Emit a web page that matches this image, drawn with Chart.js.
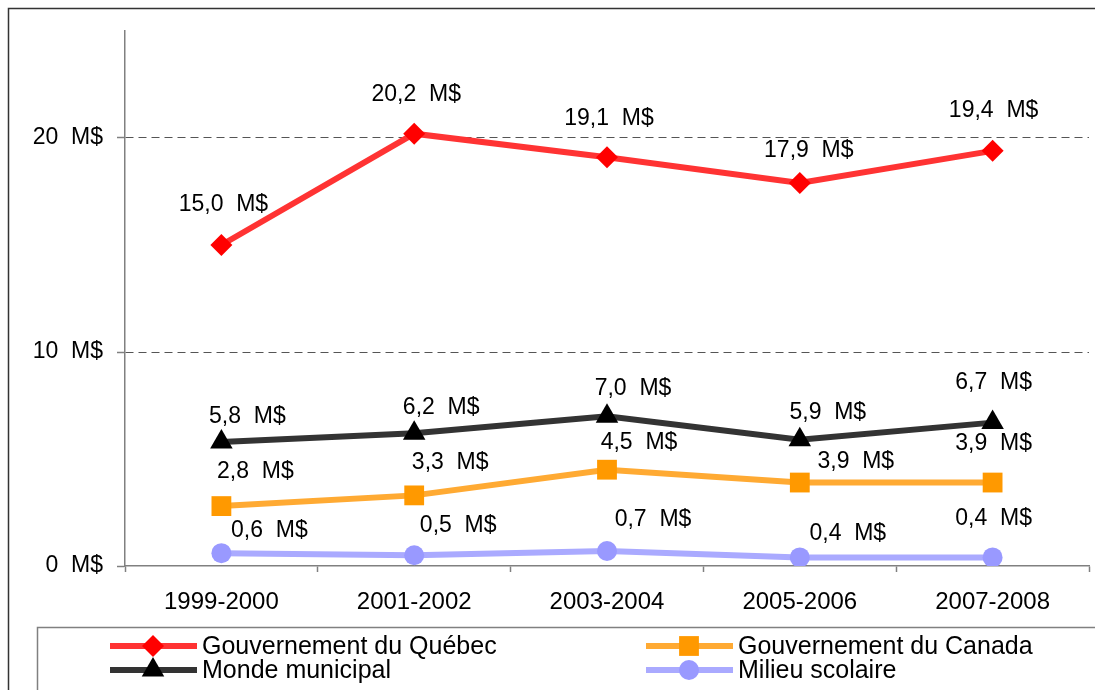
<!DOCTYPE html>
<html>
<head>
<meta charset="utf-8">
<script src="https://cdn.jsdelivr.net/npm/chart.js@4/dist/chart.umd.min.js"></script>
<style>
  html, body { margin: 0; padding: 0; background: #fff; overflow: hidden; }
  #wrap { position: relative; width: 1095px; height: 690px; overflow: hidden; }
  canvas { position: absolute; left: 0; top: 0; }
</style>
</head>
<body>
<div id="wrap"><canvas id="myChart" width="1095" height="690"></canvas></div>
<script>
// data (millions of dollars)
const periods = ['1999-2000', '2001-2002', '2003-2004', '2005-2006', '2007-2008'];
const quebec = [15.0, 20.2, 19.1, 17.9, 19.4];
const canada = [2.8, 3.3, 4.5, 3.9, 3.9];
const municipal = [5.8, 6.2, 7.0, 5.9, 6.7];
const scolaire = [0.6, 0.5, 0.7, 0.4, 0.4];
const yTicks = [0, 10, 20];

const seriesNames = ['Gouvernement du Québec', 'Gouvernement du Canada', 'Monde municipal', 'Milieu scolaire'];

// label placement relative to each point (dx, dy), like the excel layout
const labelShift = [
  [[2, -40], [2, -39], [2, -39], [9, -32], [1, -40]],
  [[34, -34], [36, -33], [32, -27], [56, -21], [1, -39]],
  [[26, -25], [27, -26], [26, -28], [28, -27], [1, -40]],
  [[48, -23], [44, -30], [46, -31], [48, -24], [1, -39]]
];

const FONT = '"Liberation Sans", Arial, sans-serif';

function fmt(v) {
  return v.toFixed(1).replace('.', ',') + '  M$';
}

// outer frame: only top and left edges are inside the picture
const frame = {
  id: 'frame',
  beforeDraw(chart) {
    const c = chart.ctx;
    c.save();
    c.fillStyle = '#fff';
    c.fillRect(0, 0, chart.width, chart.height);
    c.strokeStyle = '#333';
    c.lineWidth = 1.5;
    c.beginPath();
    c.moveTo(8.5, chart.height);
    c.lineTo(8.5, 8.5);
    c.lineTo(chart.width, 8.5);
    c.stroke();
    c.restore();
  }
};

const valueLabels = {
  id: 'valueLabels',
  afterDatasetsDraw(chart) {
    const c = chart.ctx;
    c.save();
    c.font = '23px ' + FONT;
    c.fillStyle = '#000';
    c.textAlign = 'center';
    c.textBaseline = 'middle';
    chart.data.datasets.forEach((ds, i) => {
      const meta = chart.getDatasetMeta(i);
      meta.data.forEach((pt, j) => {
        const s = labelShift[i][j];
        c.fillText(fmt(ds.data[j]), pt.x + s[0], pt.y + s[1]);
      });
    });
    c.restore();
  }
};

function marker(c, style, x, y, r, color) {
  c.fillStyle = color;
  c.beginPath();
  if (style === 'rectRot') {
    c.moveTo(x, y - r); c.lineTo(x + r, y); c.lineTo(x, y + r); c.lineTo(x - r, y);
  } else if (style === 'rect') {
    const h = r * Math.SQRT1_2;
    c.rect(x - h, y - h, 2 * h, 2 * h);
  } else if (style === 'triangle') {
    c.moveTo(x, y - r);
    c.lineTo(x + r * 0.866, y + r / 2);
    c.lineTo(x - r * 0.866, y + r / 2);
  } else {
    c.arc(x, y, r, 0, Math.PI * 2);
  }
  c.closePath();
  c.fill();
}

// legend in a box, two columns
const boxLegend = {
  id: 'boxLegend',
  afterDraw(chart) {
    const c = chart.ctx;
    c.save();
    c.strokeStyle = '#808080';
    c.lineWidth = 1.5;
    c.beginPath();
    c.moveTo(37.5, chart.height);
    c.lineTo(37.5, 627.5);
    c.lineTo(chart.width, 627.5);
    c.stroke();
    const slots = [[110, 646], [646, 646], [110, 670], [646, 670]];
    c.font = '25px ' + FONT;
    c.textBaseline = 'middle';
    c.textAlign = 'left';
    chart.data.datasets.forEach((ds, k) => {
      const [x, y] = slots[k];
      c.strokeStyle = ds.borderColor;
      c.lineWidth = 6;
      c.beginPath();
      c.moveTo(x, y);
      c.lineTo(x + 87, y);
      c.stroke();
      marker(c, ds.pointStyle, x + 43, y, ds.pointRadius, ds.pointBackgroundColor);
      c.fillStyle = '#000';
      c.fillText(ds.label, x + 92, y + 1);
    });
    c.restore();
  }
};

const myChart = document.getElementById('myChart');
const chart = new Chart(myChart, {
  type: 'line',
  data: {
    labels: periods,
    datasets: [
      {
        label: seriesNames[0], data: quebec,
        borderColor: '#FF3333', borderWidth: 6,
        pointStyle: 'rectRot', pointRadius: 11,
        pointBackgroundColor: '#FF0000', pointBorderWidth: 0
      },
      {
        label: seriesNames[1], data: canada,
        borderColor: '#FFAA33', borderWidth: 6,
        pointStyle: 'rect', pointRadius: 14,
        pointBackgroundColor: '#FF9900', pointBorderWidth: 0
      },
      {
        label: seriesNames[2], data: municipal,
        borderColor: '#333333', borderWidth: 6,
        pointStyle: 'triangle', pointRadius: 13,
        pointBackgroundColor: '#000000', pointBorderWidth: 0
      },
      {
        label: seriesNames[3], data: scolaire,
        borderColor: '#AAAAFF', borderWidth: 6,
        pointStyle: 'circle', pointRadius: 10,
        pointBackgroundColor: '#9999FF', pointBorderWidth: 0
      }
    ]
  },
  options: {
    responsive: false,
    animation: false,
    layout: { autoPadding: false, padding: { left: 0, right: 6, top: 31, bottom: 0 } },
    plugins: {
      legend: { display: false },
      tooltip: { enabled: false }
    },
    scales: {
      x: {
        offset: true,
        afterFit(scale) {
          scale.height = 124;
          scale.paddingLeft = 0;
          scale.paddingRight = 0;
        },
        grid: {
          offset: true, drawOnChartArea: false,
          tickLength: 6, tickColor: '#808080', tickWidth: 1.5
        },
        border: { color: '#808080', width: 1.5 },
        ticks: {
          color: '#000', padding: 16,
          font: { family: FONT, size: 24 }
        }
      },
      y: {
        min: 0, max: 25,
        afterFit(scale) { scale.width = 125; },
        afterBuildTicks(scale) { scale.ticks = yTicks.map(v => ({ value: v })); },
        grid: {
          color: ctx => (ctx.tick && ctx.tick.value === 0) ? 'rgba(0,0,0,0)' : '#555',
          lineWidth: 1,
          tickLength: 8, tickColor: '#808080', tickWidth: 1.5
        },
        border: { color: '#808080', width: 1.5, dash: [8, 5] },
        ticks: {
          color: '#000', padding: 14,
          font: { family: FONT, size: 23 },
          callback: v => v + '  M$'
        }
      }
    }
  },
  plugins: [frame, valueLabels, boxLegend]
});
</script>
</body>
</html>
